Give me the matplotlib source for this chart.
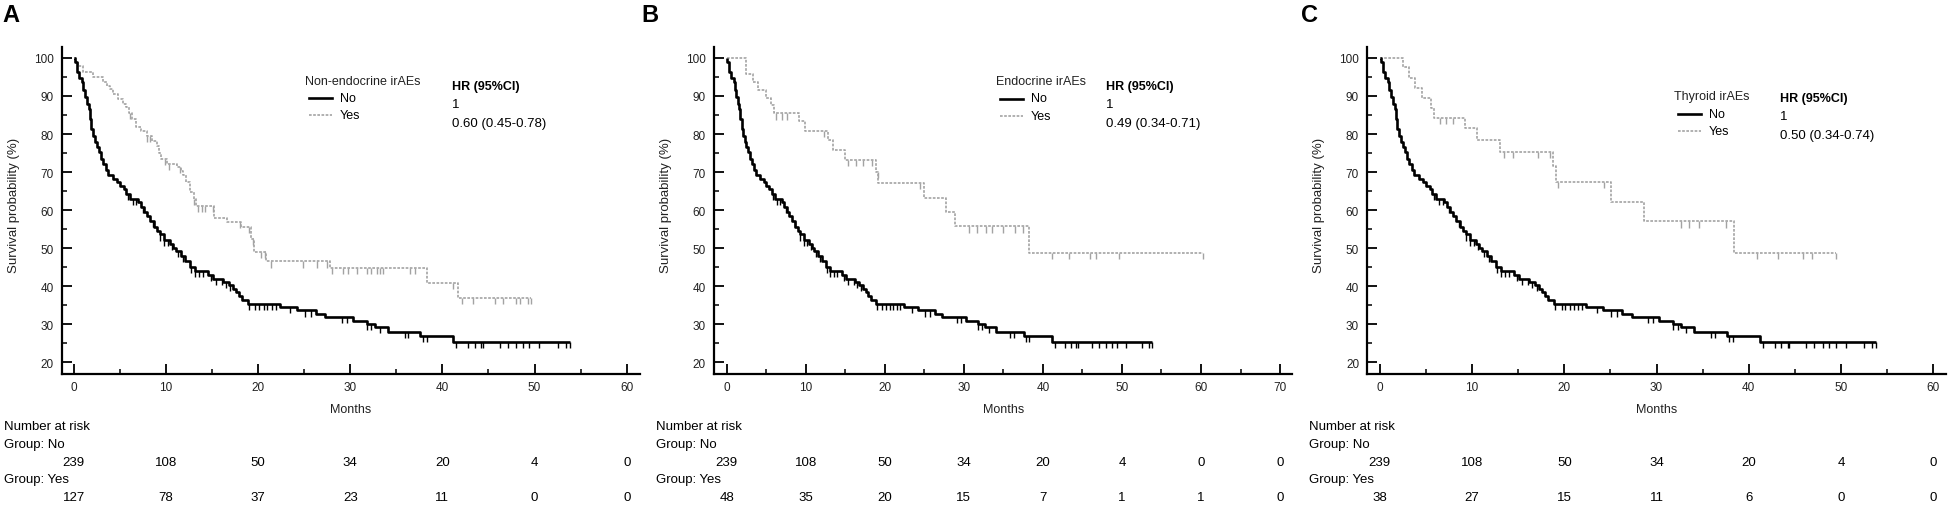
import numpy as np
import matplotlib
matplotlib.use("Agg")
import matplotlib.pyplot as plt
from matplotlib.lines import Line2D
from matplotlib.transforms import blended_transform_factory

plt.rcParams["font.family"] = ["Liberation Sans", "DejaVu Sans"]

W, H = 1949, 506

# ---- shared "No" group curve (months, survival %) ----
no_t = [0, 0.1, 0.3, 0.6, 0.9, 1.05, 1.2, 1.4, 1.6, 1.75, 1.9, 2.1, 2.3, 2.5, 2.7, 3.0, 3.2,
        3.45, 3.7, 4.2, 4.7, 5.0, 5.4, 5.7, 6.1, 7.0, 7.3, 7.6, 7.9, 8.3, 8.7, 9.0, 9.3, 9.8,
        10.4, 10.8, 11.1, 11.6, 12.1, 12.6, 13.1, 14.6, 15.1, 16.2, 16.8, 17.3, 17.6, 17.9,
        18.2, 18.9, 22.4, 24.2, 26.3, 27.3, 30.3, 31.8, 32.7, 34.1, 37.6, 41.2]
no_s = [100, 99.0, 96.2, 94.8, 93.6, 91.5, 89.7, 88.0, 86.6, 84.0, 81.3, 79.5, 77.8, 76.5, 75.2,
        73.4, 72.0, 70.5, 69.1, 68.2, 67.3, 66.4, 65.6, 64.2, 62.9, 62.1, 60.8, 59.6, 58.5, 57.2,
        55.5, 54.6, 53.6, 52.2, 51.0, 50.1, 49.3, 48.0, 46.5, 45.0, 44.0, 43.0, 41.9, 41.0, 40.2,
        39.3, 38.4, 37.4, 36.4, 35.2, 34.5, 33.6, 32.7, 32.0, 30.9, 30.1, 29.2, 27.9, 27.0, 25.4]
no_end = 53.8
no_cens = [5.9, 6.4, 6.8, 7.5, 8.6, 9.3, 9.8, 10.2, 10.7, 11.3, 11.8, 12.7, 13.1, 13.6, 14.0,
           14.9, 15.4, 16.1, 16.5, 17.0, 19.0, 19.7, 20.1, 20.6, 21.0, 21.5, 21.9, 23.5, 25.1,
           25.7, 29.1, 29.6, 31.8, 32.3, 33.2, 35.9, 36.3, 37.9, 38.3, 41.5, 42.8, 43.5, 44.2,
           44.4, 46.2, 47.1, 48.0, 48.7, 49.4, 50.5, 52.5, 53.4, 53.8]

# ---- panel A: non-endocrine irAEs "Yes" ----
a_yes_t = [0, 0.2, 0.5, 1.0, 2.1, 3.2, 3.6, 3.9, 4.3, 4.8, 5.3, 5.7, 6.0, 6.3, 6.8, 7.3, 7.9,
           8.5, 9.0, 9.25, 9.5, 10.1, 11.2, 11.6, 11.9, 12.2, 12.6, 13.0, 13.3, 15.2, 16.6,
           18.1, 19.2, 19.6, 20.9, 27.8, 38.3, 41.7]
a_yes_s = [100, 99.0, 98.0, 96.2, 94.9, 93.6, 92.7, 91.8, 90.5, 89.2, 88.0, 87.0, 85.5, 84.0,
           81.8, 80.7, 79.6, 78.2, 76.9, 75.0, 73.4, 72.1, 71.3, 70.2, 69.1, 67.4, 64.7, 63.0,
           61.0, 58.0, 56.8, 55.6, 52.5, 49.1, 46.5, 44.8, 40.9, 36.8]
a_yes_end = 49.6
a_yes_cens = [6.1, 7.9, 8.3, 9.9, 10.3, 11.5, 13.0, 13.5, 13.9, 14.2, 15.1, 18.0, 19.0, 19.4,
              20.3, 20.7, 21.4, 24.9, 26.4, 27.5, 28.0, 29.2, 29.8, 30.7, 31.8, 32.3, 32.9,
              33.2, 33.6, 36.5, 37.0, 41.1, 42.1, 43.3, 45.7, 46.6, 48.0, 48.4, 49.3, 49.6]

# ---- panel B: endocrine irAEs "Yes" ----
b_yes_t = [0, 2.47, 3.3, 4.0, 5.0, 5.6, 6.03, 9.18, 9.97, 12.85, 13.4, 14.95, 18.9, 19.15,
           24.9, 27.8, 28.9, 38.3]
b_yes_s = [100, 95.8, 93.8, 91.7, 89.6, 87.5, 85.4, 83.3, 80.8, 78.3, 75.7, 73.1, 70.1, 67.1,
           63.3, 59.5, 55.7, 48.7]
b_yes_end = 60.3
b_yes_cens = [6.3, 7.0, 7.6, 12.3, 15.4, 16.3, 17.3, 18.4, 19.1, 24.4, 30.7, 31.7, 32.8, 33.6,
              34.9, 36.5, 37.5, 41.2, 43.3, 45.9, 46.7, 49.6, 60.3]

# ---- panel C: thyroid irAEs "Yes" ----
c_yes_t = [0, 2.47, 3.15, 3.82, 4.63, 5.53, 5.85, 9.22, 10.57, 13.04, 18.75, 19.1, 25.04,
           28.64, 38.35]
c_yes_s = [100, 97.5, 94.7, 92.0, 89.4, 86.8, 84.2, 81.5, 78.3, 75.2, 71.7, 67.4, 62.1, 57.0,
           48.7]
c_yes_end = 49.5
c_yes_cens = [6.5, 7.2, 7.9, 13.5, 14.4, 17.2, 18.4, 19.3, 24.3, 32.6, 33.5, 34.6, 37.5, 40.9,
              43.2, 45.9, 46.8, 49.5]

# ---- number at risk ----
risk_a_no = [239, 108, 50, 34, 20, 4, 0]
risk_a_yes = [127, 78, 37, 23, 11, 0, 0]
risk_b_no = [239, 108, 50, 34, 20, 4, 0, 0]
risk_b_yes = [48, 35, 20, 15, 7, 1, 1, 0]
risk_c_no = [239, 108, 50, 34, 20, 4, 0]
risk_c_yes = [38, 27, 15, 11, 6, 0, 0]

titles = ["Non-endocrine irAEs", "Endocrine irAEs", "Thyroid irAEs"]
hr_texts = ["0.60 (0.45-0.78)", "0.49 (0.34-0.71)", "0.50 (0.34-0.74)"]
letters = ["A", "B", "C"]

GREY = "#a3a3a3"
TXT = "#222222"


def fx(px):
    return px / W


def fy(py):
    return 1 - py / H


def surv_at(times, surv, t):
    idx = np.searchsorted(times, t, side="right") - 1
    return np.asarray(surv)[idx]


def draw_curve(ax, times, surv, end, cens, color, lw, ls):
    tt = list(times) + [end]
    ss = list(surv) + [surv[-1]]
    ax.step(tt, ss, where="post", color=color, lw=lw, linestyle=ls, solid_capstyle="butt")
    cs = surv_at(times, surv, cens)
    ax.vlines(cens, cs - 1.6, cs, color=color, lw=1.0)


fig = plt.figure(figsize=(W / 100, H / 100), dpi=100)

panels = [
    dict(left=62.2, right=639.6, xlim=(-1.26, 61.4), xmax=60,
         yes=(a_yes_t, a_yes_s, a_yes_end, a_yes_cens), risk=(risk_a_no, risk_a_yes),
         leg=(304.7, 82, 17), hr=(452, 87), letter_x=2),
    dict(left=714.0, right=1292.5, xlim=(-1.6, 71.57), xmax=70,
         yes=(b_yes_t, b_yes_s, b_yes_end, b_yes_cens), risk=(risk_b_no, risk_b_yes),
         leg=(996, 82, 17.5), hr=(1106, 87), letter_x=641),
    dict(left=1367.4, right=1945.6, xlim=(-1.34, 61.33), xmax=60,
         yes=(c_yes_t, c_yes_s, c_yes_end, c_yes_cens), risk=(risk_c_no, risk_c_yes),
         leg=(1674, 97, 17.5), hr=(1780, 99), letter_x=1301),
]

top_px, bot_px = 48.3, 375.0

for i, p in enumerate(panels):
    ax = fig.add_axes([fx(p["left"]), fy(bot_px), (p["right"] - p["left"]) / W,
                       (bot_px - top_px) / H])
    ax.set_xlim(*p["xlim"])
    ax.set_ylim(16.9, 102.8)
    for side in ("top", "right"):
        ax.spines[side].set_visible(False)
    for side in ("left", "bottom"):
        ax.spines[side].set_linewidth(1.6)
    ax.set_xticks(np.arange(0, p["xmax"] + 1, 10))
    ax.set_xticks(np.arange(5, p["xmax"], 10), minor=True)
    ax.set_yticks(np.arange(20, 101, 10))
    ax.set_yticks(np.arange(25, 100, 10), minor=True)
    ax.tick_params(which="major", direction="in", length=7.5, width=1.3, labelsize=8.5,
                   colors="black", labelcolor=TXT)
    ax.tick_params(which="minor", direction="in", length=3.6, width=1.1)
    ax.tick_params(axis="x", pad=5)
    ax.tick_params(axis="y", pad=6)

    yt, ys, yend, ycens = p["yes"]
    draw_curve(ax, yt, ys, yend, ycens, GREY, 1.2, (0, (1.6, 0.9)))
    draw_curve(ax, no_t, no_s, no_end, no_cens, "black", 1.9, "-")

    cx = (p["left"] + p["right"]) / 2
    fig.text(fx(cx), fy(410), "Months", ha="center", va="center", fontsize=9, color=TXT)
    fig.text(fx(p["left"] - 48), fy(205), "Survival probability (%)", rotation=90,
             ha="center", va="center", fontsize=9.5, color=TXT)
    fig.text(fx(p["letter_x"]), fy(15), letters[i], ha="left", va="center",
             fontsize=17, fontweight="bold")

    # number at risk table
    lx = fx(p["left"] - 58)
    fig.text(lx, fy(427), "Number at risk", ha="left", va="center", fontsize=9.5)
    fig.text(lx, fy(445), "Group: No", ha="left", va="center", fontsize=9.5)
    fig.text(lx, fy(480), "Group: Yes", ha="left", va="center", fontsize=9.5)
    trans = blended_transform_factory(ax.transData, fig.transFigure)
    r_no, r_yes = p["risk"]
    for k, (a, b) in enumerate(zip(r_no, r_yes)):
        ax.text(k * 10, fy(463), str(a), transform=trans, ha="center", va="center",
                fontsize=9.5, clip_on=False)
        ax.text(k * 10, fy(498), str(b), transform=trans, ha="center", va="center",
                fontsize=9.5, clip_on=False)

    # legend
    gx, gy, dy = p["leg"]
    fig.text(fx(gx), fy(gy), titles[i], ha="left", va="center", fontsize=9, color=TXT)
    fig.add_artist(Line2D([fx(gx + 4), fx(gx + 27)], [fy(gy + dy)] * 2, color="black", lw=1.9,
                          transform=fig.transFigure))
    fig.add_artist(Line2D([fx(gx + 4), fx(gx + 27)], [fy(gy + 2 * dy)] * 2, color=GREY,
                          lw=1.2, linestyle=(0, (1.6, 0.9)), transform=fig.transFigure))
    fig.text(fx(gx + 35), fy(gy + dy), "No", ha="left", va="center", fontsize=9)
    fig.text(fx(gx + 35), fy(gy + 2 * dy), "Yes", ha="left", va="center", fontsize=9)

    hx, hy = p["hr"]
    fig.text(fx(hx), fy(hy), "HR (95%CI)", ha="left", va="center", fontsize=9,
             fontweight="bold")
    fig.text(fx(hx), fy(hy + 18.5), "1", ha="left", va="center", fontsize=9.5)
    fig.text(fx(hx), fy(hy + 37.5), hr_texts[i], ha="left", va="center", fontsize=9.5)

fig.savefig("out.png", dpi=100)
